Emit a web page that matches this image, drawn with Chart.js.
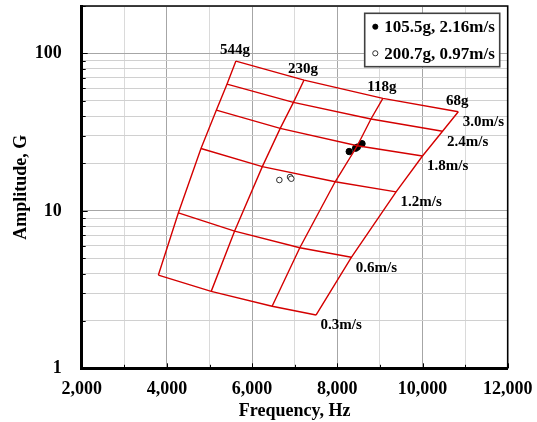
<!DOCTYPE html>
<html>
<head>
<meta charset="utf-8">
<script src="https://cdn.jsdelivr.net/npm/chart.js@4/dist/chart.umd.min.js"></script>
<style>
  html, body { margin: 0; padding: 0; background: #fff; }
  #wrap { width: 537px; height: 422px; }
</style>
</head>
<body>
<div id="wrap"><canvas id="chart" width="537" height="422"></canvas></div>
<script>
// grid labels
const massLabels = ['544g', '230g', '118g', '68g'];
const velocityLabels = ['3.0m/s', '2.4m/s', '1.8m/s', '1.2m/s', '0.6m/s', '0.3m/s'];

// constant-mass curves, one value per velocity (3.0 -> 0.3 m/s)
const freq544 = [5620, 5410, 5160, 4800, 4270, 3800];
const amp544 = [89.4, 63.8, 43.6, 24.9, 9.72, 3.91];
const freq230 = [7220, 6970, 6660, 6240, 5590, 5040];
const amp230 = [67.7, 48.9, 33.4, 19.1, 7.44, 3.08];
const freq118 = [9070, 8790, 8470, 7950, 7120, 6470];
const amp118 = [51.8, 38.3, 25.9, 15.3, 5.83, 2.48];
const freq68 = [10840, 10470, 10000, 9380, 8330, 7500];
const amp68 = [42.6, 32.0, 22.3, 13.2, 5.07, 2.18];

// measured points
const testALabel = '105.5g, 2.16m/s';
const testAFreq = [8280, 8430, 8470, 8580];
const testAAmp = [23.8, 25.0, 25.4, 26.7];
const testBLabel = '200.7g, 0.97m/s';
const testBFreq = [6640, 6890, 6920];
const testBAmp = [15.7, 16.4, 16.0];

// axes
const xTicks = [2000, 3000, 4000, 5000, 6000, 7000, 8000, 9000, 10000, 11000, 12000];
const xLabelTicks = [2000, 4000, 6000, 8000, 10000, 12000];
const yTicks = [1, 2, 3, 4, 5, 6, 7, 8, 9, 10, 20, 30, 40, 50, 60, 70, 80, 90, 100, 200];
const yLabelTicks = [1, 10, 100];

const serif = '"Liberation Serif", "Times New Roman", serif';
const red = 'rgb(212,0,0)';

const massFreq = [freq544, freq230, freq118, freq68];
const massAmp = [amp544, amp230, amp118, amp68];

function pts(xs, ys) {
  return xs.map((x, i) => ({ x: x, y: ys[i] }));
}

const datasets = [];
massLabels.forEach((m, k) => {
  datasets.push({
    label: m, kind: 'mass', data: pts(massFreq[k], massAmp[k]),
    showLine: true, borderColor: red, borderWidth: 1.4, pointRadius: 0, fill: false
  });
});
velocityLabels.forEach((v, i) => {
  datasets.push({
    label: v, kind: 'velocity',
    data: massLabels.map((m, k) => ({ x: massFreq[k][i], y: massAmp[k][i] })),
    showLine: true, borderColor: red, borderWidth: 1.4, pointRadius: 0, fill: false
  });
});
datasets.push({
  label: testALabel, kind: 'test', data: pts(testAFreq, testAAmp),
  showLine: false, pointRadius: 3.2, pointBackgroundColor: '#000', pointBorderColor: '#000', pointBorderWidth: 1
});
datasets.push({
  label: testBLabel, kind: 'test', data: pts(testBFreq, testBAmp),
  showLine: false, pointRadius: 2.8, pointBackgroundColor: '#fff', pointBorderColor: '#000', pointBorderWidth: 0.8
});

const decor = {
  id: 'decor',
  afterDraw(chart) {
    const ctx = chart.ctx;
    const a = chart.chartArea;
    const xs = chart.scales.x, ys = chart.scales.y;
    ctx.save();

    // inside tick marks
    ctx.strokeStyle = '#000';
    ctx.lineWidth = 1;
    xTicks.forEach(v => {
      const px = Math.round(xs.getPixelForValue(v)) + 0.5;
      const len = xLabelTicks.includes(v) ? 5 : 3.5;
      ctx.beginPath(); ctx.moveTo(px, a.bottom); ctx.lineTo(px, a.bottom - len); ctx.stroke();
    });
    yTicks.forEach(v => {
      const py = Math.round(ys.getPixelForValue(v)) + 0.5;
      const len = yLabelTicks.includes(v) ? 6 : 4;
      ctx.beginPath(); ctx.moveTo(a.left, py); ctx.lineTo(a.left + len, py); ctx.stroke();
    });

    // top and right frame
    ctx.lineWidth = 1.6;
    ctx.beginPath();
    ctx.moveTo(a.left, a.top); ctx.lineTo(a.right, a.top); ctx.lineTo(a.right, a.bottom);
    ctx.stroke();

    // curve labels
    ctx.fillStyle = '#000';
    ctx.font = 'bold 15px ' + serif;
    chart.data.datasets.forEach(ds => {
      if (ds.kind === 'mass') {
        const p = ds.data[0];
        ctx.textAlign = 'center'; ctx.textBaseline = 'middle';
        ctx.fillText(ds.label, xs.getPixelForValue(p.x) - 1, ys.getPixelForValue(p.y) - 11);
      } else if (ds.kind === 'velocity') {
        const p = ds.data[ds.data.length - 1];
        ctx.textAlign = 'left'; ctx.textBaseline = 'middle';
        ctx.fillText(ds.label, xs.getPixelForValue(p.x) + 4.5, ys.getPixelForValue(p.y) + 10.5);
      }
    });

    // legend box
    const bx = a.right - 143, by = a.top + 7.3, bw = 135, bh = 53.4;
    ctx.fillStyle = '#fff';
    ctx.fillRect(bx, by, bw, bh);
    ctx.strokeStyle = '#404040';
    ctx.lineWidth = 1.6;
    ctx.strokeRect(bx, by, bw, bh);
    const tests = chart.data.datasets.filter(ds => ds.kind === 'test');
    ctx.font = 'bold 17px ' + serif;
    ctx.textAlign = 'left'; ctx.textBaseline = 'middle';
    tests.forEach((ds, i) => {
      const cy = by + 13.4 + i * 26.6;
      ctx.beginPath();
      ctx.arc(bx + 10.6, cy, 2.6, 0, Math.PI * 2);
      ctx.fillStyle = ds.pointBackgroundColor;
      ctx.fill();
      ctx.strokeStyle = '#000'; ctx.lineWidth = 0.8;
      ctx.stroke();
      ctx.fillStyle = '#000';
      ctx.fillText(ds.label, bx + 19.6, cy + 1);
    });
    ctx.restore();
  }
};

new Chart(document.getElementById('chart'), {
  type: 'scatter',
  data: { datasets: datasets },
  options: {
    responsive: false,
    animation: false,
    layout: { padding: { top: 6, right: 29.3, left: 0, bottom: 0 } },
    plugins: { legend: { display: false }, tooltip: { enabled: false } },
    scales: {
      x: {
        type: 'linear', min: 2000, max: 12000,
        afterBuildTicks: s => { s.ticks = xTicks.map(v => ({ value: v })); },
        afterFit: s => { s.height = 53.7; s.paddingLeft = 0; s.paddingRight = 0; },
        grid: {
          drawTicks: false,
          color: c => xLabelTicks.includes(c.tick.value) ? '#a6a6a6' : '#dadada',
          lineWidth: 1
        },
        border: { color: '#000', width: 3 },
        ticks: {
          padding: 10, color: '#000', maxRotation: 0, autoSkip: false,
          font: { family: serif, size: 18, weight: 'bold' },
          callback: v => xLabelTicks.includes(v) ? v.toLocaleString('en-US') : ''
        },
        title: {
          display: true, text: 'Frequency, Hz', color: '#000',
          font: { family: serif, size: 18, weight: 'bold' },
          padding: { top: 0, bottom: 0 }
        }
      },
      y: {
        type: 'logarithmic', min: 1, max: 200,
        afterBuildTicks: s => { s.ticks = yTicks.map(v => ({ value: v })); },
        afterFit: s => { s.width = 81.7; s.paddingTop = 0; s.paddingBottom = 0; },
        grid: {
          drawTicks: false,
          color: c => yLabelTicks.includes(c.tick.value) ? '#a6a6a6' : '#d0d0d0',
          lineWidth: 1
        },
        border: { color: '#000', width: 3 },
        ticks: {
          padding: 20, color: '#000', autoSkip: false,
          font: { family: serif, size: 18, weight: 'bold' },
          callback: v => yLabelTicks.includes(v) ? String(v) : ''
        },
        title: {
          display: true, text: 'Amplitude, G', color: '#000',
          font: { family: serif, size: 18, weight: 'bold' },
          padding: { top: 11, bottom: 0 }
        }
      }
    }
  },
  plugins: [decor]
});
</script>
</body>
</html>
